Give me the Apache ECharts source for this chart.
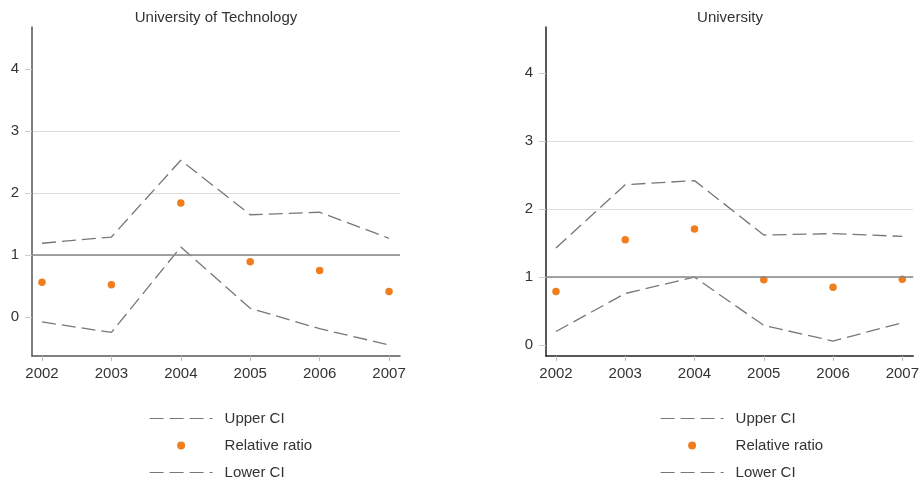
<!DOCTYPE html>
<html>
<head>
<meta charset="utf-8">
<script src="https://cdn.jsdelivr.net/npm/echarts@6/dist/echarts.min.js"></script>
<style>
  html, body { margin: 0; padding: 0; background: #fff; }
  #chart { width: 922px; height: 485px; }
</style>
</head>
<body>
<div id="chart"></div>
<script>
// Years on the horizontal axis
const years = [2002, 2003, 2004, 2005, 2006, 2007];
const yTicks = [0, 1, 2, 3, 4];

// University of Technology
const techUpper = [1.19, 1.29, 2.53, 1.65, 1.69, 1.27];
const techRatio = [0.56, 0.52, 1.84, 0.89, 0.75, 0.41];
const techLower = [-0.08, -0.25, 1.13, 0.14, -0.19, -0.45];

// University
const uniUpper = [1.43, 2.36, 2.42, 1.62, 1.64, 1.60];
const uniRatio = [0.79, 1.55, 1.71, 0.96, 0.85, 0.97];
const uniLower = [0.20, 0.76, 1.00, 0.29, 0.06, 0.33];

const FONT = '"Liberation Sans", Arial, sans-serif';
const TEXT = '#333';
const ORANGE = '#F07E1F';
const DASH = '#777';

const pair = (vals) => years.map((y, i) => [y, vals[i]]);

function xAxis(gridIndex) {
  return {
    type: 'value', gridIndex,
    min: 2001.856, max: 2007.158,
    axisLine: { show: true, onZero: false, lineStyle: { color: gridIndex === 0 ? '#555' : '#222', width: 1.5 } },
    axisTick: { show: true, customValues: years, length: 5, lineStyle: { color: '#bbb' } },
    axisLabel: { customValues: years, formatter: v => String(v), color: TEXT, fontSize: 15, fontFamily: FONT, margin: 10 },
    splitLine: { show: false }
  };
}

function yAxis(gridIndex, min) {
  return {
    type: 'value', gridIndex,
    min, max: 4.68, interval: 1,
    axisLine: { show: true, onZero: false, lineStyle: { color: gridIndex === 0 ? '#555' : '#222', width: 1.5 } },
    axisTick: { show: true, customValues: yTicks, length: 7, lineStyle: { color: '#ccc' } },
    axisLabel: { customValues: yTicks, color: TEXT, fontSize: 15, fontFamily: FONT, margin: 13 },
    splitLine: { show: true, showMinLine: false, showMaxLine: false, lineStyle: { color: '#ddd', width: 1 } }
  };
}

function ciLine(name, data, idx) {
  return {
    name, type: 'line', xAxisIndex: idx, yAxisIndex: idx,
    data: pair(data), symbol: 'none',
    lineStyle: { color: DASH, width: 1.3, type: [14, 6] },
    itemStyle: { color: DASH },
    z: 3
  };
}

function ratioDots(data, idx) {
  return {
    name: 'Relative ratio', type: 'scatter', xAxisIndex: idx, yAxisIndex: idx,
    data: pair(data), symbolSize: 7.5,
    itemStyle: { color: ORANGE, opacity: 1 },
    z: 4,
    markLine: {
      silent: true, symbol: 'none', label: { show: false },
      lineStyle: { color: '#888', width: 1.5, type: 'solid' },
      data: [{ yAxis: 1 }]
    }
  };
}

// Dashed-line legend entries carry no marker
const noMarker = { color: 'rgba(0,0,0,0)', borderWidth: 0 };

function legend(left) {
  return {
    left, top: 411, orient: 'vertical', padding: 0,
    itemWidth: 63, itemHeight: 8, itemGap: 12,
    lineStyle: { width: 1.2 },
    textStyle: { color: TEXT, fontSize: 15, fontFamily: FONT, padding: [0, 0, 0, 7] },
    data: [
      { name: 'Upper CI', itemStyle: noMarker },
      { name: 'Relative ratio' },
      { name: 'Lower CI', itemStyle: noMarker }
    ]
  };
}

const chart = echarts.init(document.getElementById('chart'));
chart.setOption({
  animation: false,
  backgroundColor: '#fff',
  textStyle: { fontFamily: FONT },
  title: [
    { text: 'University of Technology', left: 216, top: 10, textAlign: 'center', padding: 0,
      textStyle: { color: TEXT, fontSize: 15, fontWeight: 'normal', fontFamily: FONT } },
    { text: 'University', left: 730, top: 10, textAlign: 'center', padding: 0,
      textStyle: { color: TEXT, fontSize: 15, fontWeight: 'normal', fontFamily: FONT } }
  ],
  grid: [
    { left: 32, top: 27, width: 368, height: 329 },
    { left: 546, top: 27, width: 368, height: 329 }
  ],
  xAxis: [xAxis(0), xAxis(1)],
  yAxis: [yAxis(0, -0.63), yAxis(1, -0.16)],
  legend: [legend(149), legend(660)],
  series: [
    ciLine('Upper CI', techUpper, 0),
    ratioDots(techRatio, 0),
    ciLine('Lower CI', techLower, 0),
    ciLine('Upper CI', uniUpper, 1),
    ratioDots(uniRatio, 1),
    ciLine('Lower CI', uniLower, 1)
  ]
});
</script>
</body>
</html>
